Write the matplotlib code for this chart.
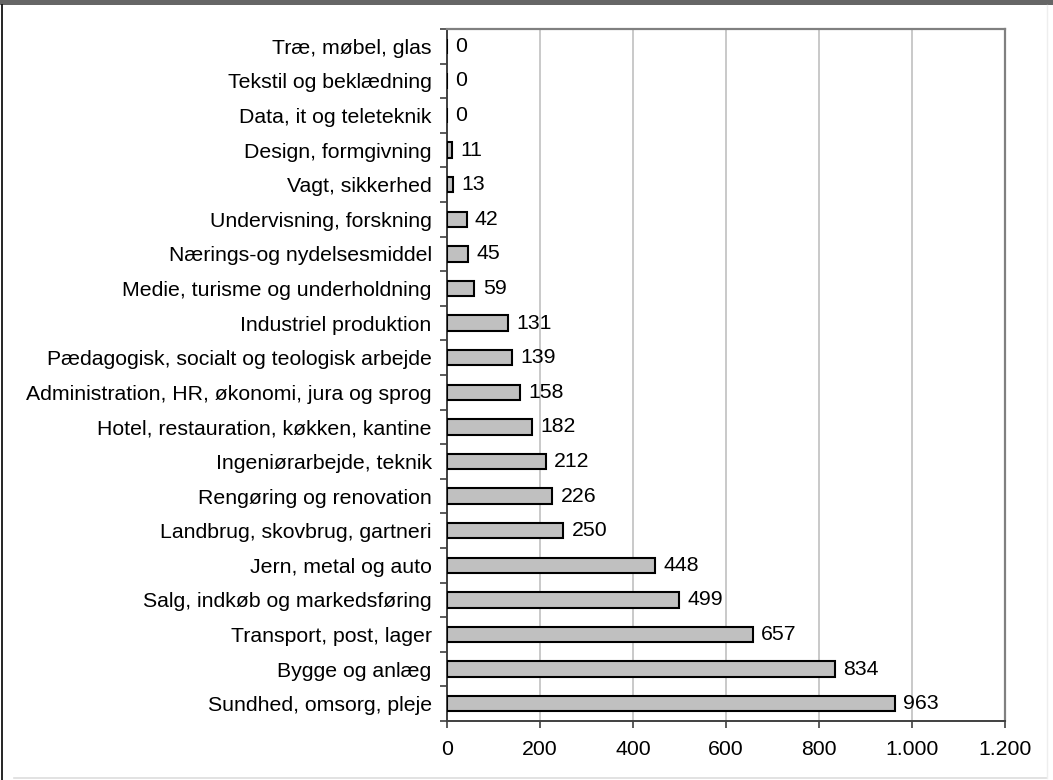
import matplotlib
matplotlib.use("Agg")
import matplotlib.pyplot as plt
from matplotlib.lines import Line2D
from matplotlib.patches import Rectangle
from matplotlib.ticker import FuncFormatter, MultipleLocator
import numpy as np

plt.rcParams['font.family'] = ['Liberation Sans', 'DejaVu Sans']

categories = [
    "Sundhed, omsorg, pleje",
    "Bygge og anlæg",
    "Transport, post, lager",
    "Salg, indkøb og markedsføring",
    "Jern, metal og auto",
    "Landbrug, skovbrug, gartneri",
    "Rengøring og renovation",
    "Ingeniørarbejde, teknik",
    "Hotel, restauration, køkken, kantine",
    "Administration, HR, økonomi, jura og sprog",
    "Pædagogisk, socialt og teologisk arbejde",
    "Industriel produktion",
    "Medie, turisme og underholdning",
    "Nærings-og nydelsesmiddel",
    "Undervisning, forskning",
    "Vagt, sikkerhed",
    "Design, formgivning",
    "Data, it og teleteknik",
    "Tekstil og beklædning",
    "Træ, møbel, glas",
]
values = [963, 834, 657, 499, 448, 250, 226, 212, 182, 158,
          139, 131, 59, 45, 42, 13, 11, 0, 0, 0]
x_ticks = [0, 200, 400, 600, 800, 1000, 1200]

FS = 15.3

W, H = 1053, 780
fig = plt.figure(figsize=(W / 100, H / 100), dpi=100)
ax = fig.add_axes([447 / W, 1 - 721 / H, (1005 - 447) / W, (721 - 29) / H])

y = np.arange(len(categories))
ax.barh(y, values, height=0.45, color="#c0c0c0", edgecolor="black",
        linewidth=1.5, zorder=3)

for yi, v in zip(y, values):
    ax.annotate(f"{v}", xy=(v, yi), xytext=(6, 0), textcoords="offset points",
                ha="left", va="center", fontsize=FS, color="black", zorder=4)

ax.set_xlim(0, 1200)
ax.set_ylim(-0.5, len(categories) - 0.5)
ax.set_xticks(x_ticks)
ax.xaxis.set_major_formatter(
    FuncFormatter(lambda v, p: f"{int(v):,}".replace(",", ".")))
ax.set_yticks(y)
ax.set_yticklabels(categories)
ax.yaxis.set_minor_locator(MultipleLocator(1, offset=0.5))

ax.tick_params(axis="y", which="major", length=0, pad=11, labelsize=FS)
ax.tick_params(axis="y", which="minor", length=5, width=1.2,
               color="#404040", direction="out")
ax.tick_params(axis="x", which="major", length=5, width=1.2,
               color="#404040", direction="out", pad=9, labelsize=FS)

ax.grid(axis="x", color="#c0c0c0", linewidth=1.2, zorder=0)
ax.set_axisbelow(True)

for side in ("top", "right"):
    ax.spines[side].set_color("#808080")
    ax.spines[side].set_linewidth(1.6)
for side in ("left", "bottom"):
    ax.spines[side].set_color("#404040")
    ax.spines[side].set_linewidth(1.4)

# frame around the chart area
fig.add_artist(Rectangle((0, 1 - 5 / H), 1, 5 / H, transform=fig.transFigure,
                         color="#666666", lw=0))
fig.add_artist(Line2D([2 / W, 2 / W], [0, 1 - 5 / H], transform=fig.transFigure,
                      color="black", lw=1.2))
fig.add_artist(Line2D([14 / W, 1047 / W], [1 - 778 / H, 1 - 778 / H],
                      transform=fig.transFigure, color="#dddddd", lw=1.2))
fig.add_artist(Line2D([1047 / W, 1047 / W], [1 - 778 / H, 1 - 5 / H],
                      transform=fig.transFigure, color="#eeeeee", lw=1.0))

fig.savefig("out.png", dpi=100)
